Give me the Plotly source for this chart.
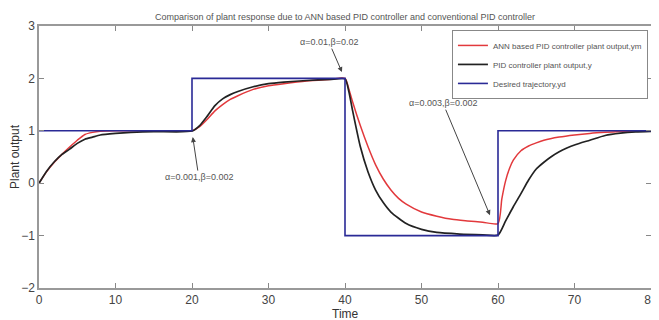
import plotly.graph_objects as go

# ---- data ----
t_ann = [0, 1, 2, 3, 4, 5, 6, 7, 8, 10, 15, 20,
         21, 22, 23, 24, 25, 26, 28, 30, 32, 35, 38, 40,
         40.5, 41, 42, 43, 44, 45, 46, 47, 48, 50, 52, 54, 56, 58, 60,
         60.5, 61, 61.5, 62, 63, 64, 65, 66, 68, 70, 72, 74, 76, 78, 80]
y_ann = [0, 0.22, 0.40, 0.55, 0.69, 0.82, 0.93, 0.97, 0.99, 1.0, 1.0, 1.0,
         1.08, 1.22, 1.38, 1.50, 1.60, 1.67, 1.79, 1.86, 1.90, 1.95, 1.98, 2.0,
         1.80, 1.55, 1.10, 0.70, 0.35, 0.08, -0.13, -0.29, -0.40, -0.55, -0.63, -0.69, -0.72, -0.745, -0.77,
         -0.30, 0.05, 0.28, 0.44, 0.62, 0.71, 0.77, 0.82, 0.88, 0.92, 0.95, 0.97, 0.985, 0.995, 1.0]

t_pid = [0, 1, 2, 3, 4, 5, 6, 7, 8, 10, 12, 15, 20,
         21, 22, 23, 24, 25, 26, 28, 30, 32, 35, 38, 40,
         40.5, 41, 42, 43, 44, 45, 46, 48, 50, 52, 55, 58, 60,
         61, 62, 63, 64, 65, 66, 67, 68, 69, 70, 72, 74, 76, 78, 80]
y_pid = [0, 0.23, 0.41, 0.55, 0.65, 0.76, 0.84, 0.88, 0.92, 0.95, 0.97, 0.985, 0.995,
         1.10, 1.28, 1.48, 1.61, 1.69, 1.75, 1.84, 1.90, 1.93, 1.96, 1.98, 1.99,
         1.75, 1.38, 0.70, 0.22, -0.13, -0.37, -0.55, -0.77, -0.88, -0.94, -0.97, -0.985, -0.99,
         -0.72, -0.45, -0.20, 0.06, 0.27, 0.40, 0.51, 0.60, 0.67, 0.73, 0.82, 0.91, 0.955, 0.98, 0.99]

t_ref = [0, 20, 40, 60, 80]
y_ref = [1, 2, -1, 1, 1]

x_ticks = [0, 10, 20, 30, 40, 50, 60, 70, 80]
y_ticks = [-2, -1, 0, 1, 2, 3]

names = ["ANN based PID controller plant output,ym",
         "PID controller plant output,y",
         "Desired trajectory,yd"]

notes = [
    dict(text="α=0.01,β=0.02", x=39.6, y=2.12, ax=-13, ay=-30),
    dict(text="α=0.001,β=0.002", x=20.1, y=0.88, ax=6, ay=40),
    dict(text="α=0.003,β=0.002", x=58.95, y=-0.61, ax=-47, ay=-112),
]

FONT = "Liberation Sans, Arial, sans-serif"

fig = go.Figure()
fig.add_trace(go.Scatter(x=t_ann, y=y_ann, mode="lines", name=names[0],
                         line=dict(color="#e2393c", width=1.5, shape="spline", smoothing=0.6)))
fig.add_trace(go.Scatter(x=t_pid, y=y_pid, mode="lines", name=names[1],
                         line=dict(color="#222222", width=1.7, shape="spline", smoothing=0.6)))
fig.add_trace(go.Scatter(x=t_ref, y=y_ref, mode="lines", name=names[2],
                         line=dict(color="#2a2a96", width=1.6, shape="hv")))

for n in notes:
    fig.add_annotation(x=n["x"], y=n["y"], ax=n["ax"], ay=n["ay"], text=n["text"],
                       showarrow=True, arrowhead=2, arrowsize=1, arrowwidth=1,
                       arrowcolor="#444444", font=dict(family=FONT, size=9, color="#555555"))

# x-axis title placed as a paper annotation so it sits inside the canvas
fig.add_annotation(text="Time", xref="paper", yref="paper", x=0.5, y=-0.1,
                   xanchor="center", yanchor="middle", showarrow=False,
                   font=dict(family=FONT, size=12, color="#333333"))

# page body has an 8px default margin, so the figure is 8px smaller and shifted
fig.update_layout(
    width=651, height=312,
    margin=dict(l=31, r=8, t=18, b=32, autoexpand=False),
    paper_bgcolor="white", plot_bgcolor="white",
    title=dict(text="Comparison of plant response due to ANN based PID controller and conventional PID controller",
               x=(31 + 643) / 2 / 651, xanchor="center", y=1 - 9 / 312, yanchor="middle",
               font=dict(family=FONT, size=9, color="#555555")),
    legend=dict(x=0.995, y=0.985, xanchor="right", yanchor="top",
                bgcolor="white", bordercolor="#888888", borderwidth=1,
                font=dict(family=FONT, size=8, color="#555555"),
                tracegroupgap=0, itemwidth=30),
    showlegend=True,
)
fig.update_xaxes(range=[0, 80], tickvals=x_ticks, ticks="inside", ticklen=5, tickcolor="#888888",
                 showgrid=False, zeroline=False, showline=True, linecolor="#999999", linewidth=1.5,
                 mirror="ticks", tickfont=dict(family=FONT, size=12, color="#444444"))
fig.update_yaxes(range=[-2, 3], tickvals=y_ticks, ticks="inside", ticklen=5, tickcolor="#888888",
                 showgrid=False, zeroline=False, showline=True, linecolor="#999999", linewidth=1.5,
                 mirror="ticks", tickfont=dict(family=FONT, size=12, color="#444444"),
                 title=dict(text="Plant output", font=dict(family=FONT, size=12, color="#333333"), standoff=2))

fig.write_html("out.html")
